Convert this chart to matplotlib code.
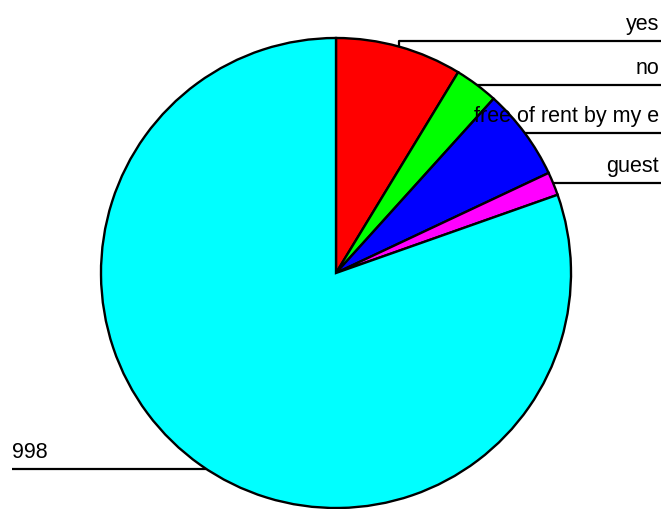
import matplotlib
matplotlib.use('Agg')
import matplotlib.pyplot as plt
import numpy as np

plt.rcParams['font.family'] = ['Liberation Sans', 'DejaVu Sans']

# slice data (clockwise from 12 o'clock)
labels = ['yes', 'no', 'free of rent by my e', 'guest', '998']
shares = [8.7, 3.0, 6.3, 1.6, 80.4]
colors = ['#ff0000', '#00ff00', '#0000ff', '#ff00ff', '#00ffff']

# label rows (pixel y from top) and side
label_y = [41, 85, 133, 183, 469]
label_side = ['right', 'right', 'right', 'right', 'left']

W, H = 661, 509
cx, cy, r = 336, H - 273, 235

fig = plt.figure(figsize=(W / 100, H / 100), dpi=100)
ax = fig.add_axes([0, 0, 1, 1])
wedges, _ = ax.pie(shares, colors=colors, startangle=90, counterclock=False,
                   center=(cx, cy), radius=r,
                   wedgeprops=dict(edgecolor='black', linewidth=1.7))
ax.set_xlim(0, W)
ax.set_ylim(0, H)
ax.set_aspect('equal')
ax.axis('off')

for w, lab, yy, side in zip(wedges, labels, label_y, label_side):
    y = H - yy
    if side == 'right':
        # leader starts at the middle of the wedge's arc
        mid = np.deg2rad((w.theta1 + w.theta2) / 2)
        ex, ey = cx + r * np.cos(mid), cy + r * np.sin(mid)
        ax.plot([ex, ex, W], [ey, y, y], color='black', lw=1.6,
                solid_capstyle='butt', zorder=0.5)
        ax.text(W - 2, y + 11, lab, ha='right', va='baseline', fontsize=15.5)
    else:
        ex = cx - np.sqrt(r ** 2 - (y - cy) ** 2)
        ax.plot([12, ex], [y, y], color='black', lw=1.6,
                solid_capstyle='butt', zorder=0.5)
        ax.text(12, y + 11, lab, ha='left', va='baseline', fontsize=15.5)

fig.savefig('out.png', dpi=100)
